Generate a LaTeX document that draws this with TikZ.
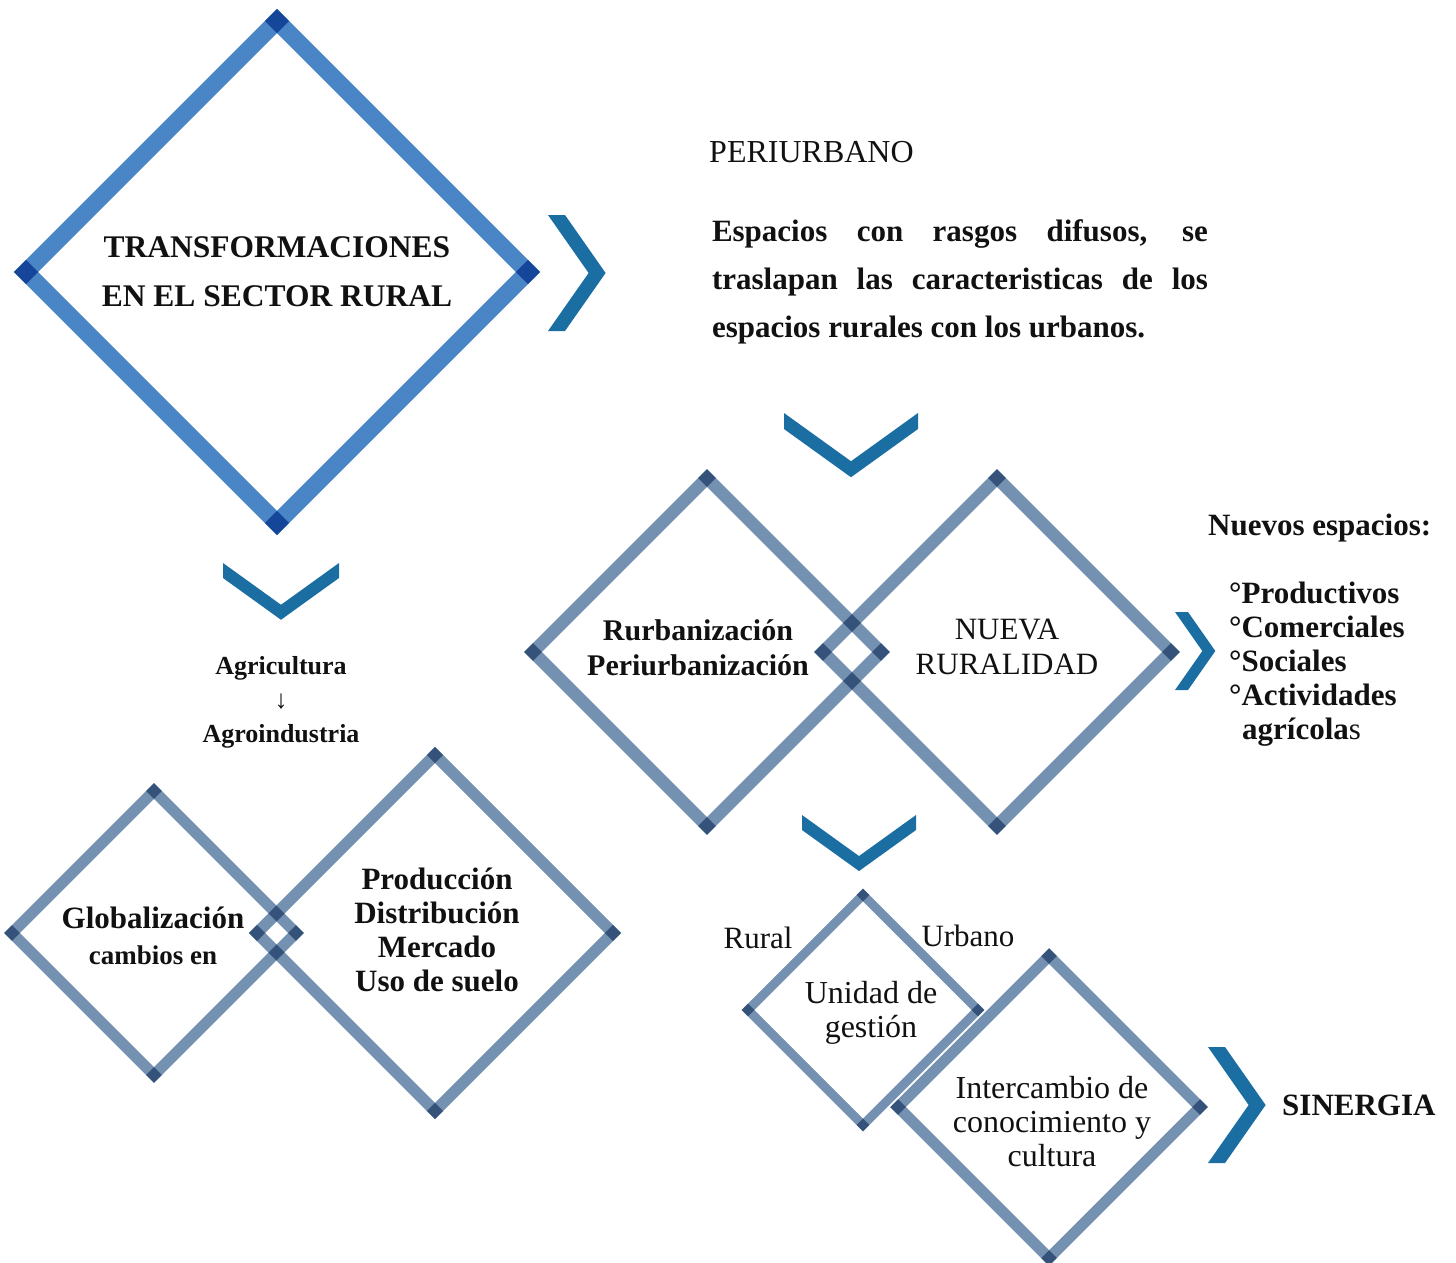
\documentclass[tikz,border=0pt]{standalone}
\usepackage{fontspec}
\setmainfont{Liberation Serif}
\definecolor{bigblue}{RGB}{74,134,198}
\definecolor{gblue}{RGB}{117,145,177}
\definecolor{chevc}{RGB}{27,110,162}
\definecolor{ink}{RGB}{17,17,17}
\newcommand\fs[2]{\fontsize{#1}{#2}\selectfont}
% name, cx, cy, half, line width, colour
\newcommand\rhomb[6]{%
  \coordinate (#1) at (#2,#3);
  \coordinate (#1-n) at (#2,{#3-#4});
  \coordinate (#1-s) at (#2,{#3+#4});
  \coordinate (#1-w) at ({#2-#4},#3);
  \coordinate (#1-e) at ({#2+#4},#3);
  \draw[edge,line width=#5,draw=#6] (#1-n) -- (#1-e);
  \draw[edge,line width=#5,draw=#6] (#1-e) -- (#1-s);
  \draw[edge,line width=#5,draw=#6] (#1-s) -- (#1-w);
  \draw[edge,line width=#5,draw=#6] (#1-w) -- (#1-n);
}
% name, cx, top y, half width, thickness
\newcommand\chevdown[5]{%
  \coordinate (#1) at (#2,{#3+0.72*#4+#5});
  \fill[chevc] ({#2-#4},#3) -- (#2,{#3+0.72*#4}) -- ({#2+#4},#3) -- ({#2+#4},{#3+#5})
    -- (#2,{#3+0.72*#4+#5}) -- ({#2-#4},{#3+#5}) -- cycle;
}
% name, left x, cy, half height, thickness
\newcommand\chevright[5]{%
  \coordinate (#1) at ({#2+0.7*#4+#5},#3);
  \fill[chevc] (#2,{#3-#4}) -- ({#2+0.7*#4},#3) -- (#2,{#3+#4}) -- ({#2+#5},{#3+#4})
    -- ({#2+0.7*#4+#5},#3) -- ({#2+#5},{#3-#4}) -- cycle;
}
\tikzset{
  edge/.style={line cap=rect},
  txt/.style={inner sep=0pt, text=ink, align=center},
}
\begin{document}
\begin{tikzpicture}[x=1pt,y=-1pt]
\useasboundingbox[fill=white] (0,0) rectangle (1456,1262);

\begin{scope}[blend mode=multiply]
  \rhomb{d1}{277}{272}{251}{17pt}{bigblue}
  \rhomb{d2}{707}{652}{174}{12.5pt}{gblue}
  \rhomb{d3}{997}{652}{174}{12.5pt}{gblue}
  \rhomb{d4}{154}{933}{142}{11pt}{gblue}
  \rhomb{d5}{435}{933}{178}{11.5pt}{gblue}
  \rhomb{d6}{863}{1010}{115}{9pt}{gblue}
  \rhomb{d7}{1049}{1107}{151}{11pt}{gblue}
\end{scope}

\chevright{c1}{548}{273}{58}{17}
\chevdown{c2}{281}{563}{58}{15}
\chevdown{c3}{851}{413}{67}{16}
\chevright{c4}{1175}{651}{39}{13}
\chevdown{c5}{859}{815}{57}{15}
\chevright{c6}{1208}{1105}{58}{17}

\node[txt,font=\bfseries\fs{31.5}{49}] (t1) at (d1) {TRANSFORMACIONES\\EN EL SECTOR RURAL};
\node[txt,anchor=west,font=\fs{32}{36}] (peri) at (709,152) {PERIURBANO};
\node[txt,text width=496pt,align=justify,font=\bfseries\fs{31}{48}] (para) at (960,282)
  {Espacios con rasgos difusos, se\linebreak traslapan las caracteristicas de los\linebreak espacios rurales con los urbanos.};
\node[txt,font=\bfseries\fs{30}{35}] (rp) at (698,648) {Rurbanización\\Periurbanización};
\node[txt,font=\fs{31}{35}] (nr) at (1007,647) {NUEVA\\RURALIDAD};
\node[txt,anchor=west,font=\bfseries\fs{31}{36}] (nuevos) at (1208,528) {Nuevos espacios:};
\node[txt,anchor=west,align=left,font=\bfseries\fs{31}{34}] (lista) at (1229,664)
  {°Productivos\\°Comerciales\\°Sociales\\°Actividades\\\hspace*{13pt}agrícola{\mdseries s}};
\node[txt,font=\bfseries\fs{26}{34}] (agri) at (281,702) {Agricultura\\↓\\Agroindustria};
\node[txt,font=\bfseries\fs{31}{36}] (glob) at (153,936) {Globalización\\{\fs{27}{36}cambios en}};
\node[txt,font=\bfseries\fs{31}{34}] (prod) at (437,930) {Producción\\Distribución\\Mercado\\Uso de suelo};
\node[txt,font=\fs{31}{34}] (rural) at (758,938) {Rural};
\node[txt,font=\fs{31}{34}] (urbano) at (968,936) {Urbano};
\node[txt,font=\fs{32}{34}] (unidad) at (871,1013) {Unidad de\\gestión};
\node[txt,font=\fs{32}{34}] (inter) at (1052,1122) {Intercambio de\\conocimiento y\\cultura};
\node[txt,anchor=west,font=\bfseries\fs{31}{34}] (sin) at (1282,1105) {SINERGIA};
\end{tikzpicture}
\end{document}
